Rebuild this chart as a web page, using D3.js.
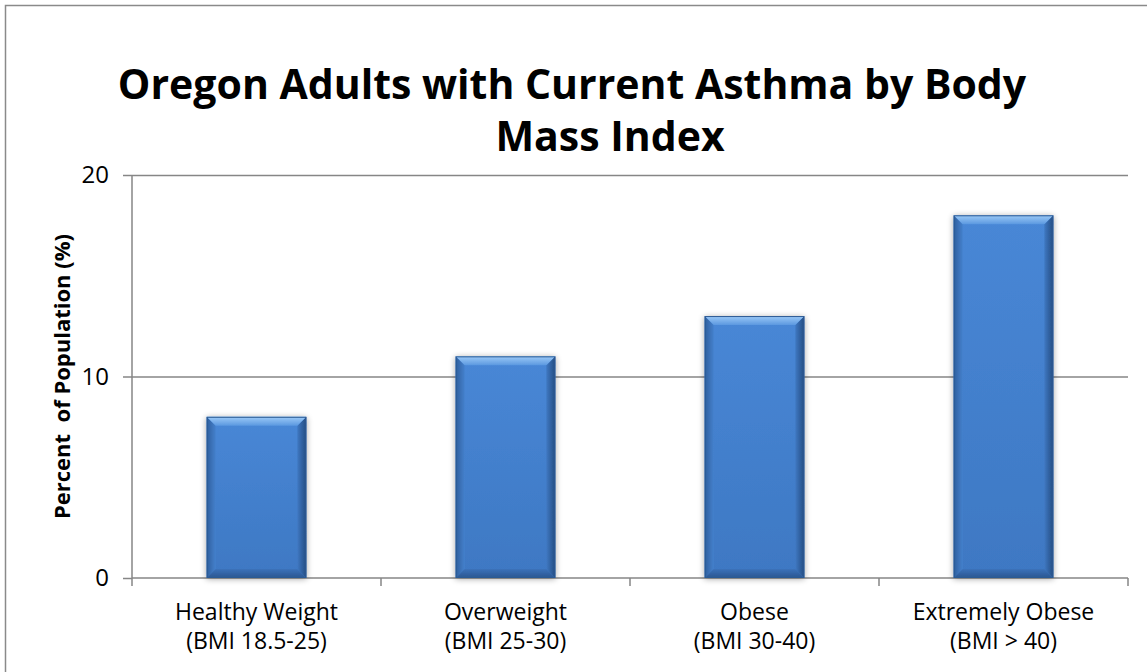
<!DOCTYPE html>
<html>
<head>
<meta charset="utf-8">
<script src="https://cdn.jsdelivr.net/npm/d3@7"></script>
<style>
  html, body { margin: 0; padding: 0; background: #ffffff; }
  svg { display: block; }
  text { font-family: "Open Sans", "Noto Sans", sans-serif; }
</style>
</head>
<body>
<svg id="chart" width="1147" height="672"></svg>
<script>
const titleLines = ["Oregon Adults with Current Asthma by Body", "Mass Index"];
const yAxisTitle = "Percent  of Population (%)";
const categories = ["Healthy Weight", "Overweight", "Obese", "Extremely Obese"];
const categorySubLabels = ["(BMI 18.5-25)", "(BMI 25-30)", "(BMI 30-40)", "(BMI > 40)"];
const values = [8, 11, 13, 18];
const yTicks = [0, 10, 20];

const svg = d3.select("#chart");
const W = 1147, H = 672;
const plot = { left: 132, right: 1128, top: 175, bottom: 578 };

svg.append("rect").attr("width", W).attr("height", H).attr("fill", "#fff");
svg.append("rect").attr("x", 5.5).attr("y", 5.5).attr("width", W + 10).attr("height", H + 10)
  .attr("fill", "none").attr("stroke", "#8a8a8a").attr("stroke-width", 1.5);

const defs = svg.append("defs");
const fl = defs.append("filter").attr("id", "shadow").attr("x", "-20%").attr("y", "-20%").attr("width", "140%").attr("height", "140%");
fl.append("feGaussianBlur").attr("in", "SourceAlpha").attr("stdDeviation", 3).attr("result", "b");
fl.append("feOffset").attr("in", "b").attr("dx", 0).attr("dy", 1).attr("result", "o");
fl.append("feComponentTransfer").attr("in", "o").attr("result", "o2")
  .append("feFuncA").attr("type", "linear").attr("slope", 0.35);
const fm = fl.append("feMerge");
fm.append("feMergeNode").attr("in", "o2");
fm.append("feMergeNode").attr("in", "SourceGraphic");

function lg(id, x2, y2, stops) {
  const g = defs.append("linearGradient").attr("id", id).attr("x1", 0).attr("y1", 0).attr("x2", x2).attr("y2", y2);
  stops.forEach(s => g.append("stop").attr("offset", s[0]).attr("stop-color", s[1]));
}
lg("body", 0, 1, [[0, "#4887d6"], [1, "#3e78c3"]]);
lg("topBevel", 0, 1, [[0, "#9ccaf7"], [1, "#5b98e0"]]);
lg("leftBevel", 1, 0, [[0, "#2f5f9e"], [1, "#4480cc"]]);
lg("rightBevel", 1, 0, [[0, "#3f78c2"], [1, "#244d82"]]);
lg("bottomBevel", 0, 1, [[0, "#3b72ba"], [1, "#2a5690"]]);

const x = d3.scaleBand().domain(categories).range([plot.left, plot.right]).paddingInner(0.6).paddingOuter(0.3);
const y = d3.scaleLinear().domain([0, 20]).range([plot.bottom, plot.top]);

const yAxis = svg.append("g").attr("transform", `translate(${plot.left},0)`)
  .call(d3.axisLeft(y).tickValues(yTicks).tickSize(9).tickFormat(d3.format("d")).tickPadding(14));
yAxis.select(".domain").remove();
yAxis.selectAll(".tick line").attr("stroke", "#868686").attr("stroke-width", 1.5);
yAxis.selectAll(".tick text").attr("font-size", 24).attr("fill", "#000");
svg.append("g").attr("transform", `translate(${plot.left},0)`)
  .call(d3.axisLeft(y).tickValues(yTicks.filter(d => d > 0)).tickSize(-(plot.right - plot.left)).tickFormat(""))
  .call(g => g.select(".domain").remove())
  .selectAll(".tick line").attr("stroke", "#868686").attr("stroke-width", 1.5);
svg.append("line").attr("x1", plot.left).attr("x2", plot.left).attr("y1", plot.top).attr("y2", plot.bottom)
  .attr("stroke", "#868686").attr("stroke-width", 1.5);

const boundaries = categories.map((c, i) => plot.left + i * x.step());
boundaries.push(plot.right);
svg.append("line").attr("x1", plot.left).attr("x2", plot.right).attr("y1", plot.bottom).attr("y2", plot.bottom)
  .attr("stroke", "#868686").attr("stroke-width", 1.5);
svg.selectAll(".xtick").data(boundaries).enter().append("line")
  .attr("x1", d => d).attr("x2", d => d).attr("y1", plot.bottom).attr("y2", plot.bottom + 8)
  .attr("stroke", "#868686").attr("stroke-width", 1.5);

const bv = 9;
const bars = svg.selectAll(".bar").data(categories.map((c, i) => ({ c, v: values[i] }))).enter()
  .append("g").attr("class", "bar").attr("filter", "url(#shadow)");
bars.append("rect")
  .attr("x", d => x(d.c)).attr("y", d => y(d.v)).attr("width", x.bandwidth()).attr("height", d => y(0) - y(d.v))
  .attr("fill", "url(#body)");
bars.append("polygon").attr("fill", "url(#leftBevel)").attr("points", d => {
  const x0 = x(d.c), t = y(d.v), b = y(0);
  return [[x0, t], [x0 + bv, t + bv], [x0 + bv, b - bv], [x0, b]].join(" ");
});
bars.append("polygon").attr("fill", "url(#rightBevel)").attr("points", d => {
  const x1 = x(d.c) + x.bandwidth(), t = y(d.v), b = y(0);
  return [[x1, t], [x1 - bv, t + bv], [x1 - bv, b - bv], [x1, b]].join(" ");
});
bars.append("polygon").attr("fill", "url(#bottomBevel)").attr("points", d => {
  const x0 = x(d.c), x1 = x0 + x.bandwidth(), b = y(0);
  return [[x0, b], [x0 + bv, b - bv], [x1 - bv, b - bv], [x1, b]].join(" ");
});
bars.append("polygon").attr("fill", "url(#topBevel)").attr("points", d => {
  const x0 = x(d.c), x1 = x0 + x.bandwidth(), t = y(d.v);
  return [[x0, t], [x1, t], [x1 - bv, t + bv], [x0 + bv, t + bv]].join(" ");
});
bars.append("rect")
  .attr("x", d => x(d.c) + 0.5).attr("y", d => y(d.v) + 0.5).attr("width", x.bandwidth() - 1).attr("height", d => y(0) - y(d.v) - 1)
  .attr("fill", "none").attr("stroke", "#2c5a94").attr("stroke-width", 1);

const lab = svg.append("g");
lab.selectAll(".c1").data(categories).enter().append("text")
  .attr("x", d => x(d) + x.bandwidth() / 2).attr("y", 620).attr("text-anchor", "middle")
  .attr("font-size", 23).attr("fill", "#000").text(d => d);
lab.selectAll(".c2").data(categories).enter().append("text")
  .attr("x", d => x(d) + x.bandwidth() / 2).attr("y", 649).attr("text-anchor", "middle")
  .attr("font-size", 23).attr("fill", "#000").text((d, i) => categorySubLabels[i]);

svg.append("text").attr("transform", `translate(70,${(plot.top + plot.bottom) / 2}) rotate(-90)`)
  .attr("text-anchor", "middle").attr("font-size", 22).attr("font-weight", "bold").attr("fill", "#000")
  .attr("xml:space", "preserve").style("white-space", "pre").text(yAxisTitle);

svg.selectAll(".title").data(titleLines).enter().append("text")
  .attr("x", (d, i) => i === 0 ? 572 : 610).attr("y", (d, i) => 99 + i * 52).attr("text-anchor", "middle")
  .attr("font-size", 41).attr("font-weight", "bold").attr("fill", "#000").text(d => d);
</script>
</body>
</html>
